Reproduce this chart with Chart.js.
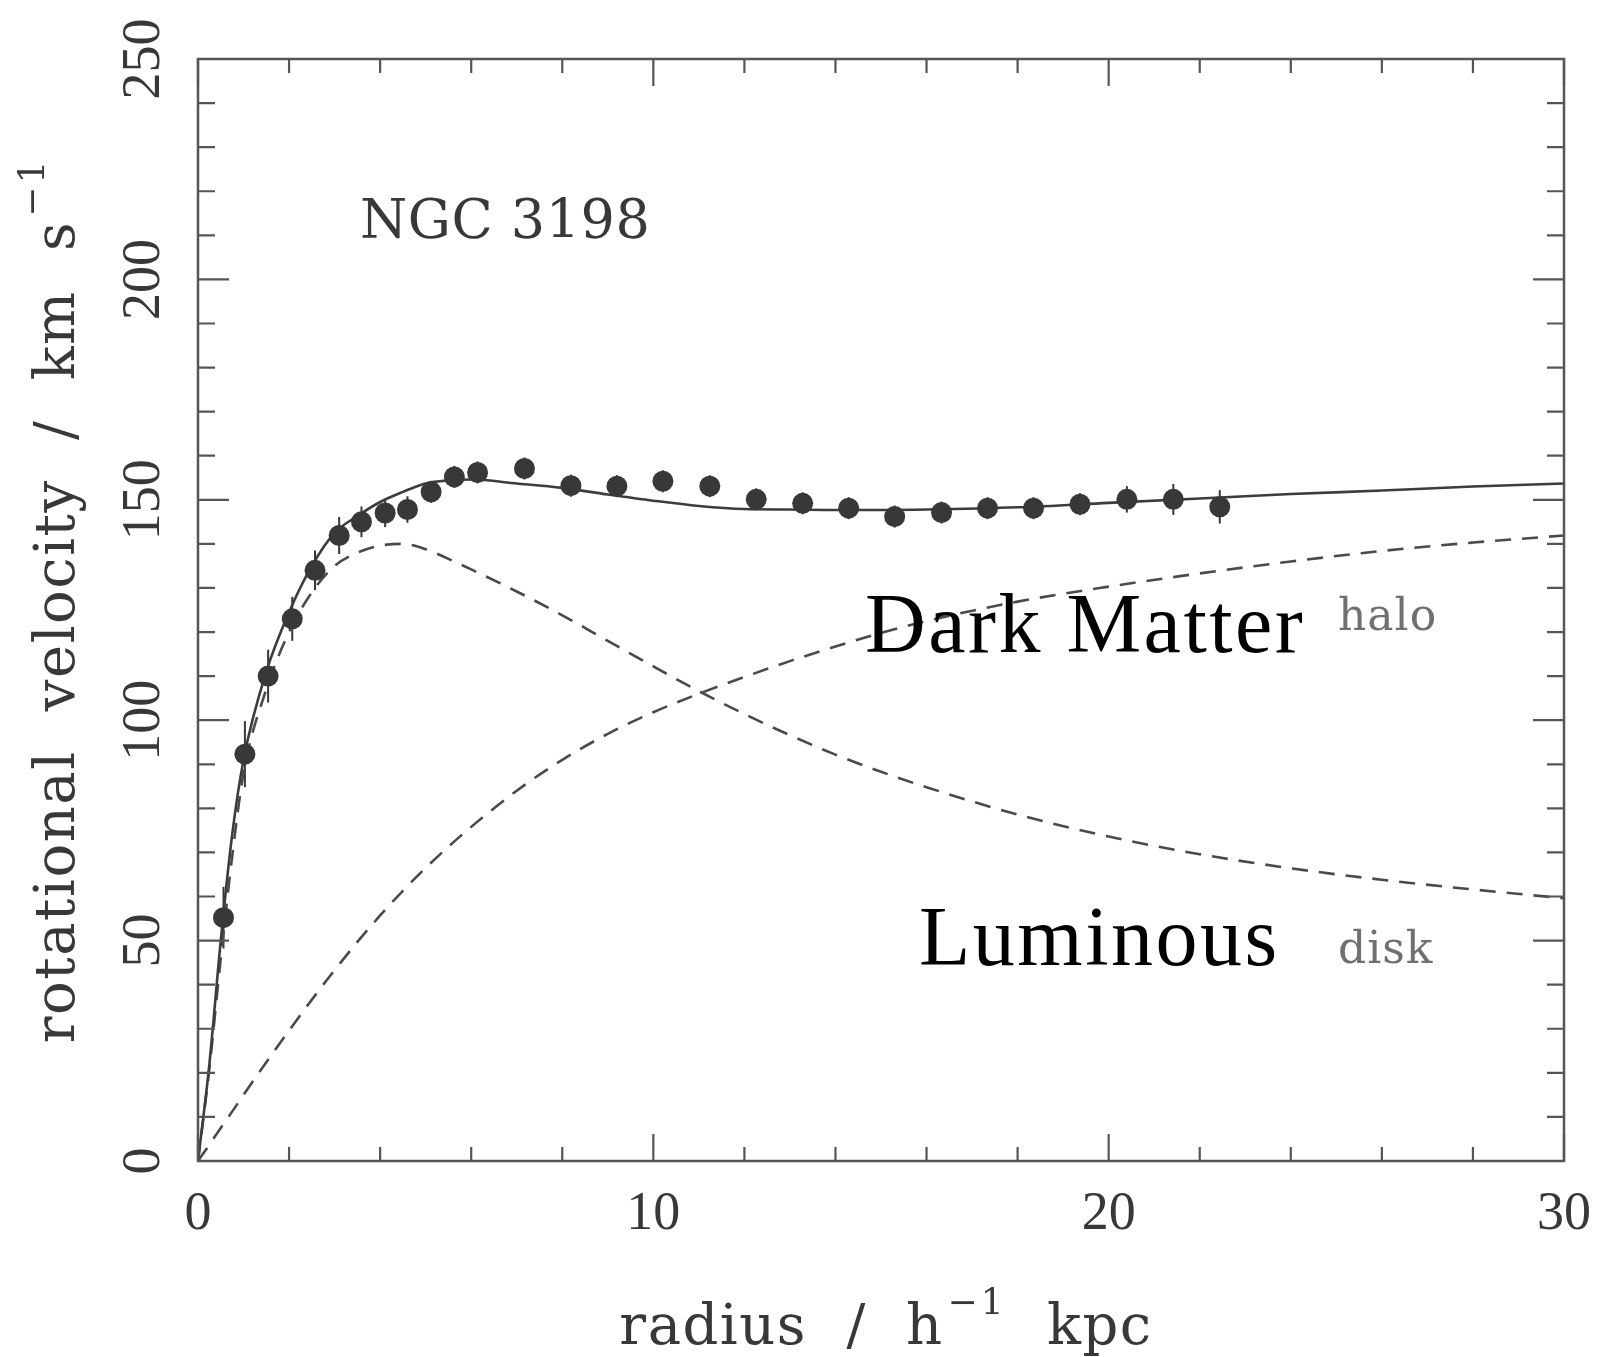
<!DOCTYPE html>
<html>
<head>
<meta charset="utf-8">
<title>NGC 3198 rotation curve</title>
<script src="https://cdn.jsdelivr.net/npm/chart.js@4.4.1/dist/chart.umd.min.js"></script>
<style>
  html, body { margin: 0; padding: 0; background: #fff; }
  #wrap { width: 1606px; height: 1357px; }
</style>
</head>
<body>
<div id="wrap"><canvas id="rotation" width="1606" height="1357"></canvas></div>
<script>
// observed HI rotation velocities (kpc, km/s) with their errors
const obsRadius = [0.56, 1.03, 1.54, 2.07, 2.57, 3.10, 3.59, 4.11, 4.60, 5.12, 5.63, 6.14,
    7.17, 8.19, 9.20, 10.21, 11.24, 12.26, 13.28, 14.29, 15.30, 16.33, 17.34, 18.35,
    19.37, 20.40, 21.42, 22.44];
const obsVelocity = [55.2, 92.3, 110.0, 123.0, 134.0, 141.9, 145.0, 147.0, 147.8, 151.8, 155.2, 156.2,
    157.1, 153.2, 153.1, 154.2, 153.1, 150.1, 149.2, 148.1, 146.2, 147.1, 148.1, 148.1,
    149.0, 150.1, 150.1, 148.4];
const obsError = [7, 7.5, 6, 5, 4.5, 4.2, 3.5, 3.2, 3, 2.5, 2.5, 2.5,
    2.5, 2.5, 2.5, 2.5, 2.5, 2.5, 2.5, 2.5, 2.5, 2.5, 2.5, 2.5,
    2.5, 3, 3.5, 3.8];

// model curves: total fit, luminous disk, dark matter halo
const modelRadius = [0, 0.25, 0.5, 0.75, 1, 1.5, 2, 2.5, 3, 3.5, 4, 4.5, 5, 5.5, 6, 7, 8, 9,
    10, 11, 12, 13, 14, 15, 16, 18, 20, 22, 24, 26, 28, 30];
const totalVelocity = [0, 22, 50, 74, 91, 111, 124.5, 135, 142.5, 146.3, 149.5, 151.8, 153.7, 154.4, 154.6, 153.7, 152.7, 151.2,
    149.8, 148.6, 147.9, 147.8, 147.7, 147.7, 147.8, 148.3, 149.3, 150.3, 151.3, 152.1, 153.0, 153.7];
const diskVelocity = [0, 21, 46, 69, 88, 107, 120, 129, 135, 138, 139.6, 140, 138.8, 136.6, 134.2, 129.2, 123.8, 118.0,
    112.2, 106.6, 101.4, 96.6, 92.2, 88.3, 84.8, 78.6, 73.6, 69.6, 66.4, 63.8, 61.6, 59.6];
const haloVelocity = [0, 3.7, 7.5, 11.2, 15, 22.4, 29.6, 36.6, 43.3, 49.7, 55.7, 61.3, 66.5, 71.3, 75.8, 84.0, 91.0, 96.9,
    101.8, 106.0, 109.8, 113.4, 116.7, 119.8, 122.5, 126.9, 130.3, 133.3, 136, 138.4, 140.3, 141.9];

const xTickLabels = [0, 10, 20, 30];
const yTickLabels = [0, 50, 100, 150, 200, 250];

const INK = '#383838';
const FRAME = '#555';
const SERIF = '"DejaVu Serif", serif';

const toPoints = (xs, ys) => xs.map((x, i) => ({ x: x, y: ys[i] }));

function drawText(ctx, text, x, y, font, color, spacing, wordGap) {
    ctx.font = font;
    ctx.fillStyle = color;
    ctx.letterSpacing = (spacing || 0) + 'px';
    ctx.wordSpacing = (wordGap || 0) + 'px';
    ctx.fillText(text, x, y);
}

// a title with a "-1" superscript, centred on (0, 0) in the current transform
function drawUnitTitle(ctx, head, tail) {
    const main = '56px ' + SERIF;
    const sup = '36px ' + SERIF;
    ctx.textAlign = 'left';
    ctx.textBaseline = 'alphabetic';
    ctx.letterSpacing = '1.5px';
    ctx.wordSpacing = '20px';
    ctx.font = main;
    const w1 = ctx.measureText(head).width;
    const w3 = tail ? ctx.measureText(tail).width : 0;
    ctx.font = sup;
    const w2 = ctx.measureText('\u22121').width;
    let cx = -(w1 + w2 + w3 + 8) / 2;
    drawText(ctx, head, cx, 0, main, INK, 1.5, 20);
    cx += w1 + 4;
    drawText(ctx, '\u22121', cx, -30, sup, INK, 3, 0);
    cx += w2 + 4;
    if (tail) drawText(ctx, tail, cx, 0, main, INK, 1.5, 20);
}

const framePlugin = {
    id: 'frame',
    beforeDraw(chart) {
        const ctx = chart.ctx;
        ctx.save();
        ctx.fillStyle = '#fff';
        ctx.fillRect(0, 0, chart.width, chart.height);
        ctx.restore();
    },
    beforeDatasetsDraw(chart) {
        // vertical error bars through the observed points
        const { ctx, scales: { x, y } } = chart;
        ctx.save();
        ctx.strokeStyle = INK;
        ctx.lineWidth = 2;
        obsRadius.forEach((r, i) => {
            const px = x.getPixelForValue(r);
            ctx.beginPath();
            ctx.moveTo(px, y.getPixelForValue(obsVelocity[i] + obsError[i]));
            ctx.lineTo(px, y.getPixelForValue(obsVelocity[i] - obsError[i]));
            ctx.stroke();
        });
        ctx.restore();
    },
    afterDraw(chart) {
        const { ctx, chartArea: a, scales: { x, y } } = chart;
        ctx.save();

        // box
        ctx.strokeStyle = FRAME;
        ctx.lineWidth = 2.5;
        ctx.strokeRect(a.left, a.top, a.right - a.left, a.bottom - a.top);

        // inward ticks on all four sides, longer at the labelled values
        ctx.lineWidth = 2.2;
        ctx.beginPath();
        x.ticks.forEach(t => {
            const px = x.getPixelForValue(t.value);
            const len = xTickLabels.includes(t.value) ? 27 : 14;
            ctx.moveTo(px, a.bottom); ctx.lineTo(px, a.bottom - len);
            ctx.moveTo(px, a.top); ctx.lineTo(px, a.top + len);
        });
        y.ticks.forEach(t => {
            const py = y.getPixelForValue(t.value);
            const len = yTickLabels.includes(t.value) ? 31 : 17;
            ctx.moveTo(a.left, py); ctx.lineTo(a.left + len, py);
            ctx.moveTo(a.right, py); ctx.lineTo(a.right - len, py);
        });
        ctx.stroke();

        // tick labels
        ctx.fillStyle = INK;
        ctx.font = '54px "Liberation Serif", serif';
        ctx.letterSpacing = '0px';
        ctx.wordSpacing = '0px';
        ctx.textAlign = 'center';
        ctx.textBaseline = 'alphabetic';
        xTickLabels.forEach(v => {
            ctx.fillText(String(v), x.getPixelForValue(v), a.bottom + 68);
        });
        yTickLabels.forEach(v => {
            ctx.save();
            ctx.translate(a.left - 39, y.getPixelForValue(v));
            ctx.rotate(-Math.PI / 2);
            ctx.fillText(String(v), 0, 0);
            ctx.restore();
        });

        // axis titles
        ctx.save();
        ctx.translate((a.left + a.right) / 2 + 5, a.bottom + 183);
        drawUnitTitle(ctx, 'radius / h', ' kpc');
        ctx.restore();

        ctx.save();
        ctx.translate(74, 600);
        ctx.rotate(-Math.PI / 2);
        drawUnitTitle(ctx, 'rotational velocity / km s', '');
        ctx.restore();

        // in-plot labels
        ctx.textAlign = 'left';
        drawText(ctx, 'NGC 3198', 360, 238, '54px ' + SERIF, INK, 0.5, 0);
        drawText(ctx, 'Dark Matter', 865, 652, '84px "Liberation Serif", serif', '#000', 2.5, 0);
        drawText(ctx, 'halo', 1338, 630, '44px ' + SERIF, '#707070', 1, 0);
        drawText(ctx, 'Luminous', 919, 965, '84px "Liberation Serif", serif', '#000', 2.5, 0);
        drawText(ctx, 'disk', 1338, 963, '44px ' + SERIF, '#707070', 1, 0);

        ctx.restore();
    }
};

const dashed = {
    showLine: true,
    pointRadius: 0,
    borderColor: '#4a4a4a',
    borderWidth: 2.6,
    borderDash: [16, 11],
    cubicInterpolationMode: 'monotone',
    fill: false,
};

new Chart(document.getElementById('rotation'), {
    type: 'scatter',
    data: {
        datasets: [
            {
                label: 'observed',
                data: toPoints(obsRadius, obsVelocity),
                pointRadius: 10.5,
                pointBackgroundColor: INK,
                pointBorderWidth: 0,
                order: 0,
            },
            {
                label: 'total',
                data: toPoints(modelRadius, totalVelocity),
                showLine: true,
                pointRadius: 0,
                borderColor: '#3c3c3c',
                borderWidth: 2.6,
                cubicInterpolationMode: 'monotone',
                order: 1,
            },
            Object.assign({ label: 'disk', data: toPoints(modelRadius, diskVelocity), order: 2 }, dashed),
            Object.assign({ label: 'halo', data: toPoints(modelRadius, haloVelocity), order: 3 }, dashed),
        ]
    },
    options: {
        responsive: false,
        devicePixelRatio: 1,
        animation: false,
        events: [],
        layout: {
            padding: { left: 198, right: 42, top: 59, bottom: 196 }
        },
        scales: {
            x: {
                type: 'linear',
                display: false,
                min: 0,
                max: 30,
                ticks: { stepSize: 2 },
            },
            y: {
                type: 'linear',
                display: false,
                min: 0,
                max: 250,
                ticks: { stepSize: 10 },
            }
        },
        plugins: {
            legend: { display: false },
            tooltip: { enabled: false },
        }
    },
    plugins: [framePlugin],
});
</script>
</body>
</html>
